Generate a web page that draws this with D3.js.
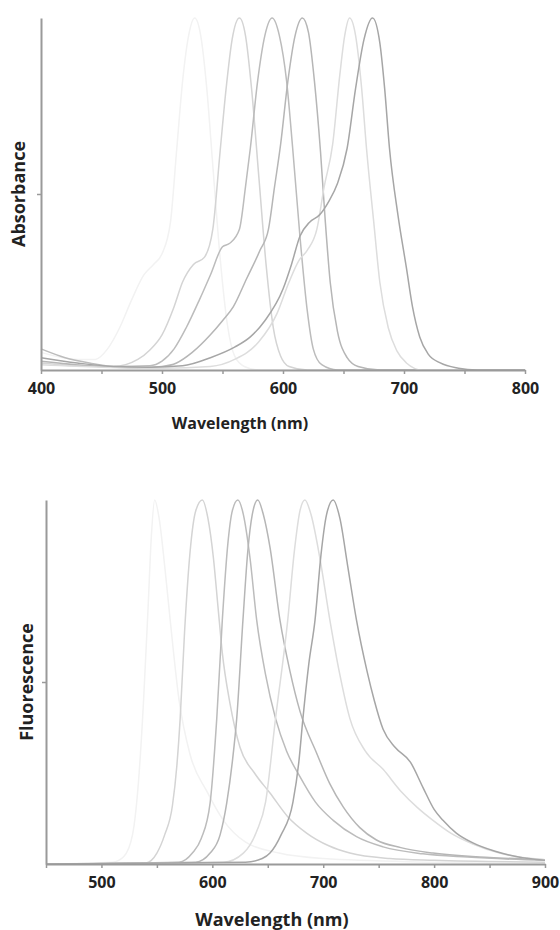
<!DOCTYPE html>
<html>
<head>
<meta charset="utf-8">
<script src="https://cdn.jsdelivr.net/npm/d3@7"></script>
<style>
  body { margin: 0; background: #fff; }
  svg text { font-family: "Open Sans", sans-serif; font-weight: 700; fill: #222; }
  .domain { stroke: #9a9a9a; stroke-width: 2; }
  .tick line { stroke: #9a9a9a; stroke-width: 1.5; }
  .spectrum { fill: none; stroke-width: 1.5; }
</style>
</head>
<body>
<div id="chart"></div>
<script>
////////////////////////////////////////////////////////////
//////////////////////// Data //////////////////////////////
////////////////////////////////////////////////////////////

// Absorbance spectra, [wavelength nm, normalised value]
var abs527 = [[400,0.05],[430,0.03],[445,0.03],[455,0.06],[465,0.12],[475,0.2],[485,0.27],[493,0.3],[500,0.33],[507,0.42],[512,0.62],[517,0.82],[522,0.95],[527,1],[532,0.95],[537,0.8],[542,0.58],[548,0.32],[554,0.13],[560,0.04],[568,0.01],[580,0],[800,0]];
var abs564 = [[400,0.02],[430,0.012],[460,0.01],[480,0.03],[490,0.057],[500,0.1],[510,0.18],[517,0.25],[526,0.3],[535,0.32],[542,0.4],[548,0.62],[553,0.8],[558,0.94],[564,1],[569,0.95],[574,0.8],[580,0.55],[586,0.3],[592,0.12],[598,0.04],[605,0.01],[620,0],[800,0]];
var abs591 = [[400,0.06],[420,0.035],[440,0.02],[460,0.01],[490,0.012],[500,0.025],[510,0.06],[520,0.12],[531,0.2],[540,0.27],[550,0.35],[556,0.36],[564,0.4],[569,0.52],[573,0.63],[579,0.82],[585,0.95],[591,1],[597,0.95],[603,0.82],[608,0.63],[614,0.38],[620,0.17],[625,0.06],[632,0.015],[645,0],[800,0]];
var abs616 = [[400,0.025],[440,0.012],[480,0.006],[500,0.01],[512,0.02],[525,0.05],[540,0.1],[550,0.14],[559,0.18],[570,0.26],[581,0.34],[588,0.4],[593,0.52],[598,0.64],[604,0.82],[610,0.95],[616,1],[621,0.96],[626,0.82],[631,0.62],[635,0.42],[639,0.25],[645,0.11],[653,0.035],[662,0.01],[680,0],[800,0]];
var abs655 = [[400,0.015],[450,0.008],[500,0.005],[540,0.01],[560,0.03],[580,0.08],[595,0.16],[605,0.25],[613,0.31],[620,0.34],[628,0.4],[634,0.52],[641,0.64],[647,0.84],[651,0.95],[655,1],[660,0.95],[665,0.8],[669,0.63],[675,0.42],[680,0.25],[687,0.12],[694,0.055],[702,0.02],[715,0],[800,0]];
var abs674 = [[400,0.035],[430,0.02],[460,0.01],[490,0.008],[517,0.012],[540,0.035],[560,0.065],[573,0.094],[585,0.14],[600,0.23],[607,0.3],[614,0.38],[622,0.42],[630,0.44],[638,0.48],[645,0.53],[653,0.63],[660,0.8],[667,0.94],[674,1],[680,0.93],[684,0.8],[688,0.63],[695,0.44],[702,0.29],[707,0.18],[713,0.094],[720,0.045],[730,0.02],[745,0.005],[760,0],[800,0]];

// Fluorescence spectra, [wavelength nm, normalised value]
var fl548 = [[450,0],[510,0.005],[520,0.02],[528,0.08],[534,0.25],[538,0.45],[542,0.7],[545,0.9],[548,1],[552,0.95],[557,0.82],[562,0.67],[570,0.45],[580,0.3],[595,0.2],[610,0.12],[630,0.06],[660,0.03],[700,0.015],[800,0.005],[900,0]];
var fl591 = [[450,0],[540,0.003],[545,0.01],[550,0.03],[557,0.08],[564,0.16],[568,0.27],[571,0.4],[575,0.64],[580,0.86],[585,0.97],[591,1],[596,0.95],[601,0.84],[605,0.71],[609,0.58],[616,0.44],[625,0.32],[638,0.25],[652,0.195],[668,0.13],[685,0.085],[705,0.05],[724,0.03],[760,0.015],[800,0.01],[900,0.005]];
var fl623 = [[450,0],[570,0.005],[582,0.03],[590,0.07],[598,0.168],[604,0.4],[609,0.67],[614,0.88],[618,0.97],[623,1],[628,0.96],[634,0.84],[640,0.67],[648,0.52],[657,0.4],[667,0.31],[679,0.24],[693,0.17],[709,0.12],[730,0.075],[754,0.047],[790,0.028],[830,0.019],[900,0.01]];
var fl641 = [[450,0],[585,0.005],[598,0.03],[607,0.08],[613,0.168],[618,0.28],[622,0.4],[627.6,0.67],[632,0.86],[636,0.96],[641,1],[646,0.96],[652,0.87],[661,0.67],[670,0.53],[679,0.42],[694,0.305],[706,0.22],[718,0.157],[733,0.1],[748,0.066],[770,0.045],[799,0.03],[850,0.018],[900,0.012]];
var fl683 = [[450,0],[610,0.005],[628,0.03],[640,0.09],[648,0.17],[657,0.4],[668,0.67],[674,0.86],[679,0.97],[683.5,1],[689,0.96],[697,0.84],[706,0.67],[715,0.52],[724,0.4],[738,0.31],[754,0.26],[770,0.2],[785,0.155],[799,0.12],[815,0.085],[835,0.055],[859,0.03],[880,0.018],[900,0.012]];
var fl709 = [[450,0],[630,0.005],[645,0.015],[652,0.03],[662,0.08],[672.7,0.17],[678,0.28],[681.7,0.4],[687,0.55],[692.6,0.67],[698,0.85],[703,0.96],[709,1],[715,0.95],[722,0.82],[730,0.67],[739.5,0.53],[746,0.45],[754,0.37],[765,0.32],[778.6,0.28],[790,0.21],[800,0.15],[808,0.12],[820,0.085],[835,0.058],[855,0.035],[875,0.02],[900,0.01]];

// Grey of each dye, as light as in the figure
var dyeGreys = ["#f2f2f2", "#d4d4d4", "#bcbcbc", "#b6b6b6", "#dddddd", "#a6a6a6"];

var absTicks = [400, 450, 500, 550, 600, 650, 700, 750, 800];
var flTicks = [450, 500, 550, 600, 650, 700, 750, 800, 850, 900];

////////////////////////////////////////////////////////////
//////////////////////// Setup /////////////////////////////
////////////////////////////////////////////////////////////

var svg = d3.select("#chart").append("svg")
	.attr("width", 560)
	.attr("height", 930);

function drawPanel(opts) {
	var x = d3.scaleLinear().domain(opts.xDomain).range([opts.left, opts.right]);
	var y = d3.scaleLinear().domain([0, 1]).range([opts.bottom, opts.top]);

	var g = svg.append("g");

	//Spectra
	var line = d3.line()
		.x(function(d) { return x(d[0]); })
		.y(function(d) { return y(d[1]); })
		.curve(d3.curveMonotoneX);

	g.selectAll(".spectrum")
		.data(opts.series)
		.enter().append("path")
		.attr("class", "spectrum")
		.attr("d", line)
		.style("stroke", function(d, i) { return dyeGreys[i]; });

	//Axes
	var xAxis = d3.axisBottom(x)
		.tickValues(opts.ticks)
		.tickSize(4)
		.tickSizeOuter(0)
		.tickFormat(function(d) { return d % 100 === 0 ? d : ""; });

	var gx = g.append("g")
		.attr("transform", "translate(0," + opts.bottom + ")")
		.call(xAxis);
	gx.selectAll("text")
		.attr("y", 13)
		.style("font-size", "16px");

	var yAxis = d3.axisLeft(y)
		.tickValues([0.5])
		.tickSize(4)
		.tickSizeOuter(0)
		.tickFormat("");

	g.append("g")
		.attr("transform", "translate(" + opts.left + ",0)")
		.call(yAxis);

	//Axis titles
	g.append("text")
		.attr("x", opts.xTitleX)
		.attr("y", opts.xTitleY)
		.attr("text-anchor", "middle")
		.style("font-size", opts.titleSize + "px")
		.text("Wavelength (nm)");

	g.append("text")
		.attr("transform", "translate(" + opts.yTitleX + "," + ((opts.top + opts.bottom) / 2) + ") rotate(-90)")
		.attr("text-anchor", "middle")
		.style("font-size", "18px")
		.text(opts.yTitle);
}

drawPanel({
	series: [abs527, abs564, abs591, abs616, abs655, abs674],
	xDomain: [400, 800], ticks: absTicks,
	left: 41, right: 525, top: 18, bottom: 370,
	xTitleX: 240, xTitleY: 429, yTitleX: 25, yTitle: "Absorbance", titleSize: 16
});

drawPanel({
	series: [fl548, fl591, fl623, fl641, fl683, fl709],
	xDomain: [450, 900], ticks: flTicks,
	left: 46, right: 545, top: 500, bottom: 864,
	xTitleX: 272, xTitleY: 926, yTitleX: 33, yTitle: "Fluorescence", titleSize: 18
});
</script>
</body>
</html>
